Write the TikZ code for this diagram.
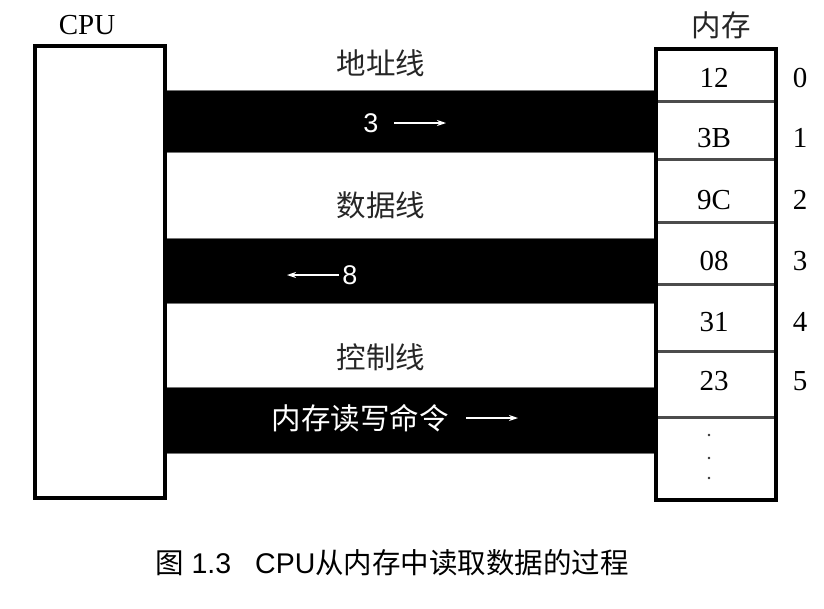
\documentclass[tikz,border=0pt]{standalone}
\usepackage{fontspec}
\setmainfont{Liberation Serif}
\newfontfamily\cjk{Noto Sans CJK SC}
\newfontfamily\sans{Liberation Sans}
\usetikzlibrary{arrows.meta}
\begin{document}
\begin{tikzpicture}[x=1pt,y=-1pt,
  frame/.style={draw=black,line width=4pt},
  cell/.style={draw=black!70,line width=3pt,fill=white,anchor=north west,
    minimum width=120pt,inner sep=0pt},
  bus/.style={fill=black,draw=black!55,line width=0.8pt},
  serif/.style={font=\fontsize{29}{29}\selectfont,inner sep=0pt},
  cjklabel/.style={font=\cjk\fontsize{29.5}{29.5}\selectfont,text=black!85,inner sep=0pt},
  buslabel/.style={font=\sans\fontsize{27}{27}\selectfont,text=white,inner sep=0pt},
  buscjk/.style={font=\cjk\fontsize{29.5}{29.5}\selectfont,text=white,inner sep=0pt},
  flow/.style={draw=white,line width=1.2pt,-{Stealth[length=9pt,width=6pt]}},
  dot/.style={circle,fill=black!80,inner sep=0pt,minimum size=2.6pt},
]
\useasboundingbox[fill=white] (0,0) rectangle (824,608);

% buses between CPU and memory
\path[bus] (163,90) rectangle (654,152);
\path[bus] (163,238) rectangle (654,303);
\path[bus] (163,387) rectangle (654,453);

% CPU
\node[frame,fill=white,anchor=north west,minimum width=130pt,minimum height=452pt,inner sep=0pt]
  (cpu) at (33,44) {};
\node[serif] (cpulabel) at (87,25) {CPU};

% memory cells
\node[cell,minimum height=53pt] (m0) at (654,47) {};
\node[cell,minimum height=58pt] (m1) at (654,100) {};
\node[cell,minimum height=63pt] (m2) at (654,158) {};
\node[cell,minimum height=62pt] (m3) at (654,221) {};
\node[cell,minimum height=67pt] (m4) at (654,283) {};
\node[cell,minimum height=66pt] (m5) at (654,350) {};
\node[cell,minimum height=82pt] (m6) at (654,416) {};
\node[frame,anchor=north west,minimum width=120pt,minimum height=451pt,inner sep=0pt]
  (mem) at (654,47) {};
\node[cjklabel] (memlabel) at (721,25) {内存};

% cell contents
\node[serif] (v0) at (714,78) {12};
\node[serif] (v1) at (714,138) {3B};
\node[serif] (v2) at (714,200) {9C};
\node[serif] (v3) at (714,261) {08};
\node[serif] (v4) at (714,322) {31};
\node[serif] (v5) at (714,381) {23};
\node[dot] (d1) at (709,435) {};
\node[dot] (d2) at (709,458) {};
\node[dot] (d3) at (709,478) {};

% addresses
\node[serif] (a0) at (800,78) {0};
\node[serif] (a1) at (800,138) {1};
\node[serif] (a2) at (800,200) {2};
\node[serif] (a3) at (800,261) {3};
\node[serif] (a4) at (800,322) {4};
\node[serif] (a5) at (800,381) {5};

% bus names
\node[cjklabel] (addr) at (381,63) {地址线};
\node[cjklabel] (data) at (381,205) {数据线};
\node[cjklabel] (ctrl) at (381,357) {控制线};

% values travelling on the buses
\node[buslabel] (three) at (371,123) {3};
\coordinate (t1) at (394,123);
\coordinate (t2) at (446,123);
\draw[flow] (t1) -- (t2);

\node[buslabel] (eight) at (350,275) {8};
\coordinate (e1) at (339,275);
\coordinate (e2) at (287,275);
\draw[flow] (e1) -- (e2);

\node[buscjk] (cmd) at (360,418) {内存读写命令};
\coordinate (c1) at (466,418);
\coordinate (c2) at (518,418);
\draw[flow] (c1) -- (c2);

% caption
\node[inner sep=0pt,font=\fontsize{28.5}{28.5}\selectfont] (caption) at (392,563)
  {{\cjk 图}\hspace{8pt}{\sans 1.3}\hspace{24pt}{\sans CPU}{\cjk 从内存中读取数据的过程}};
\end{tikzpicture}
\end{document}
